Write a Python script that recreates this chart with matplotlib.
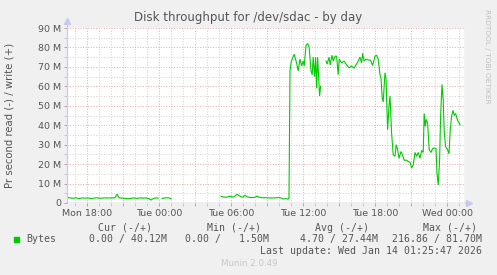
import numpy as np
import matplotlib.pyplot as plt
from matplotlib.ticker import MultipleLocator, FixedLocator

# minutes after Mon 18:00 and write throughput in MB/s (nan = gap in data)
write_min = [-100, -85, -70, -55, -40, -25, -10, 5, 20, 35, 50, 65, 80, 95, 110,
             125, 140, 150, 160, 175, 190, 205, 220, 235, 250, 265, 280, 295, 310,
             320, 330, 340, 355, 360, 375, 390, 405, 420, 425,
             670, 685, 700, 715, 730, 740, 750, 760, 770, 780, 790, 800, 815, 830,
             845, 850, 860, 875, 895, 915, 935, 955, 970, 980, 995, 1005, 1010,
             1015, 1022, 1036, 1048, 1056, 1065, 1073, 1081, 1086, 1095, 1103, 1111,
             1120, 1126, 1131, 1138, 1143, 1148, 1153, 1158, 1163, 1168, 1175,
             1195, 1201, 1210, 1216, 1225, 1231, 1240, 1248, 1256, 1261, 1273, 1285,
             1298, 1311, 1323, 1335, 1345, 1356, 1365, 1373, 1378, 1385, 1395, 1406,
             1418, 1428, 1440, 1448, 1456, 1465, 1470, 1476, 1481, 1490, 1495, 1503,
             1510, 1515, 1523, 1531, 1540, 1546, 1553, 1560, 1570, 1576, 1586, 1598,
             1606, 1615, 1623, 1631, 1640, 1648, 1656, 1665, 1673, 1681, 1686, 1691,
             1696, 1703, 1711, 1720, 1728, 1736, 1745, 1750, 1756, 1763, 1768, 1775,
             1781, 1786, 1793, 1803, 1810, 1816, 1823, 1830, 1836, 1843, 1853, 1865]
write_mb = [3.0, 2.6, 2.4, 2.7, 2.3, 2.6, 2.5, 2.6, 2.3, 2.5, 2.7, 2.4, 2.6, 2.6, 2.6,
            2.6, 2.7, 4.5, 2.7, 2.5, 2.4, 2.2, 2.4, 2.6, 2.4, 2.6, 2.5, 2.6, 2.2,
            1.5, 2.2, 2.6, 2.5, np.nan, 2.4, 2.6, 2.7, 2.3, np.nan,
            3.4, 3.0, 3.0, 3.5, 3.0, 3.6, 4.5, 3.8, 3.2, 3.0, 4.0, 3.2, 2.8, 2.8,
            3.1, 3.6, 3.0, 2.7, 2.7, 2.6, 2.6, 2.8, 2.6, 2.1, 2.2, 2.0, 2.5,
            68, 73, 76.5, 72, 68, 74, 70.5, 73, 70.5, 81, 82, 80,
            68, 66, 75, 65, 75, 59, 75, 65, 55, 60, np.nan,
            73, 71.5, 75, 71, 76, 73, 75.5, 75.5, 66, 74, 72, 73,
            71, 69.5, 70.5, 69.3, 71, 73, 75, 72, 77, 73, 74, 73.5,
            73.5, 70.7, 75.5, 76, 74, 66, 64, 54, 52, 67, 64, 37.7,
            49.8, 55, 36, 24.8, 24, 30, 27.5, 23, 26.5, 25, 22, 22,
            21.3, 21, 18, 19.5, 26, 24, 26, 23, 27, 26, 46, 39.4,
            43, 41, 27.4, 26, 28, 28.3, 28, 15.3, 9.3, 22, 44.8, 61,
            53, 37, 29, 27.4, 25.3, 37.4, 44.6, 47.7, 45, 46, 42.5, 40.3]

tick_min = [0, 360, 720, 1080, 1440, 1800]
tick_labels = ["Mon 18:00", "Tue 00:00", "Tue 06:00", "Tue 12:00", "Tue 18:00", "Wed 00:00"]
y_ticks = [0, 10, 20, 30, 40, 50, 60, 70, 80, 90]
y_labels = ["0"] + ["%d M" % v for v in y_ticks[1:]]

headers = ["Cur (-/+)", "Min (-/+)", "Avg (-/+)", "Max (-/+)"]
values = ["0.00 / 40.12M", "0.00 /   1.50M", "4.70 / 27.44M", "216.86 / 81.70M"]

W, H = 497, 275
txt = "#555555"
fig = plt.figure(figsize=(W / 100, H / 100), dpi=100, facecolor="#F0F0F0")
ax = fig.add_axes([67 / W, 1 - 203 / H, 398 / W, 175 / H])
ax.set_facecolor("white")

ax.set_xlim(-100, 1890)
ax.set_ylim(0, 90)

# grid: minor every hour / 5M, major every 3 hours / 10M
major_x = np.arange(0, 1890, 180)
ax.xaxis.set_major_locator(FixedLocator(major_x))
ax.xaxis.set_minor_locator(MultipleLocator(60))
ax.yaxis.set_major_locator(FixedLocator(y_ticks))
ax.yaxis.set_minor_locator(MultipleLocator(5))
ax.grid(which="minor", color="#D4D4D4", linestyle=(0, (1, 1.6)), lw=0.72)
ax.grid(which="major", color="#EBB0B0", linestyle=(0, (1, 1.6)), lw=0.72)
ax.set_axisbelow(True)

ax.set_xticklabels([tick_labels[i // 2] if i % 2 == 0 else "" for i in range(len(major_x))])
ax.set_yticks(y_ticks, y_labels)
ax.tick_params(which="both", length=2, width=0.7, color="#C0A0A0", labelsize=6.8,
               labelcolor=txt, pad=2)
ax.tick_params(which="minor", color="#C8C8C8")

for s in ax.spines.values():
    s.set_visible(False)

ax.plot(write_min, write_mb, color="#00CC00", lw=0.8, solid_joinstyle="miter")

# axes lines, zero line and arrows
ax.axhline(0, color="#888888", lw=0.9)
ax.axvline(1890, color="#999999", lw=0.9)
ax.plot([-100, -100], [0, 93], color="#C8C8F0", lw=0.9, clip_on=False)
ax.plot([-100], [93.5], marker="^", color="#C8C8F0", ms=4, clip_on=False)
ax.plot([1890, 1905], [0, 0], color="#C8C8F0", lw=0.9, clip_on=False)
ax.plot([1912], [0], marker=">", color="#C8C8F0", ms=4, clip_on=False)

# texts
fig.text(248 / W, 1 - 18 / H, "Disk throughput for /dev/sdac - by day", ha="center",
         va="center", fontsize=8.5, color=txt)
fig.text(10 / W, 1 - 115 / H, "Pr second read (-) / write (+)", rotation=90, ha="center",
         va="center", fontsize=7.3, color=txt)
fig.text(487 / W, 1 - 56 / H, "RRDTOOL / TOBI OETIKER", rotation=270, ha="center",
         va="center", fontsize=5.3, color="#C0C0C0")

mono = dict(family="DejaVu Sans Mono", fontsize=7.1, color=txt)
for x, h in zip([125, 234, 342, 450], headers):
    fig.text(x / W, 1 - 228 / H, h, ha="center", va="center", **mono)
fig.patches.append(plt.Rectangle((14 / W, 1 - 242 / H), 5 / W, 5 / H,
                                 transform=fig.transFigure, color="#00CC00"))
fig.text(26 / W, 1 - 239 / H, "Bytes", ha="left", va="center", **mono)
for x, v in zip([167, 269, 378, 482], values):
    fig.text(x / W, 1 - 239 / H, v, ha="right", va="center", **mono)
fig.text(482 / W, 1 - 251 / H, "Last update: Wed Jan 14 01:25:47 2026", ha="right",
         va="center", **mono)
fig.text(249 / W, 1 - 264 / H, "Munin 2.0.49", ha="center", va="center", fontsize=6.3,
         color="#C8C8C8")

fig.savefig("out.png", dpi=100, facecolor=fig.get_facecolor())
